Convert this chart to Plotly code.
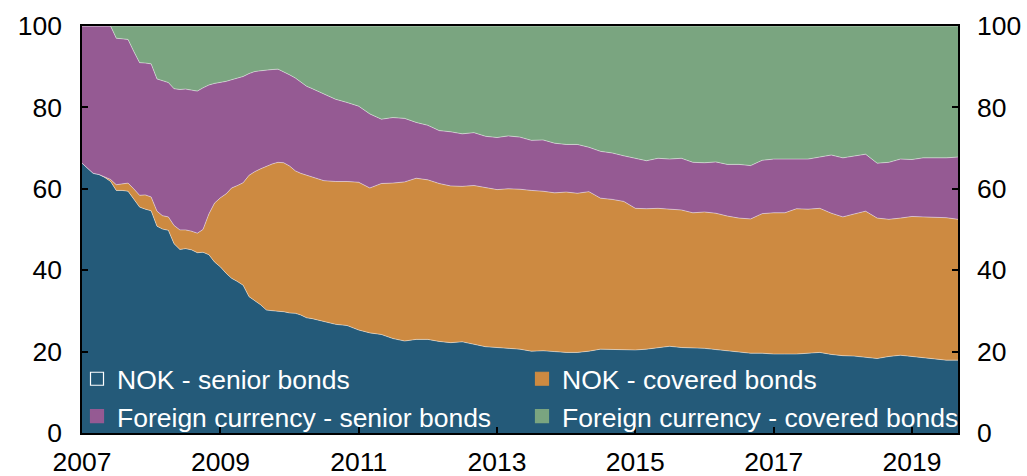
import plotly.graph_objects as go

# ---------------- data ----------------
dates = [
    "2007-01", "2007-02", "2007-03", "2007-04", "2007-05", "2007-06", "2007-07", "2007-08", "2007-09", "2007-10", "2007-11", "2007-12",
    "2008-01", "2008-02", "2008-03", "2008-04", "2008-05", "2008-06", "2008-07", "2008-08", "2008-09", "2008-10", "2008-11", "2008-12",
    "2009-01", "2009-02", "2009-03", "2009-04", "2009-05", "2009-06", "2009-07", "2009-08", "2009-09", "2009-10", "2009-11", "2009-12",
    "2010-01", "2010-02", "2010-03", "2010-04", "2010-05",
    "2010-07", "2010-09", "2010-11",
    "2011-01", "2011-03", "2011-05", "2011-07", "2011-09", "2011-11",
    "2012-01", "2012-03", "2012-05", "2012-07", "2012-09", "2012-11",
    "2013-01", "2013-03", "2013-05", "2013-07", "2013-09", "2013-11",
    "2014-01", "2014-03", "2014-05", "2014-07", "2014-09", "2014-11",
    "2015-01", "2015-03", "2015-05", "2015-07", "2015-09", "2015-11",
    "2016-01", "2016-03", "2016-05", "2016-07", "2016-09", "2016-11",
    "2017-01", "2017-03", "2017-05", "2017-07", "2017-09", "2017-11",
    "2018-01", "2018-03", "2018-05", "2018-07", "2018-09", "2018-11",
    "2019-01", "2019-03", "2019-05", "2019-07", "2019-09",
]

nok_senior = [
    66.3, 65.0, 63.8, 63.5, 62.8, 61.8, 59.6, 59.6, 59.4, 57.5, 55.5, 55.0,
    54.6, 50.8, 50.1, 49.8, 46.5, 45.1, 45.3, 45.0, 44.3, 44.4, 43.8, 42.0,
    40.8, 39.2, 38.0, 37.2, 36.3, 33.5, 32.5, 31.5, 30.2, 30.0, 29.9, 29.8,
    29.5, 29.4, 29.0, 28.3, 28.1,
    27.4, 26.7, 26.4,
    25.3, 24.6, 24.2, 23.2, 22.6, 23.0,
    23.0, 22.5, 22.2, 22.4, 21.7, 21.2,
    21.0, 20.8, 20.6, 20.1, 20.2, 20.0,
    19.8, 19.8, 20.1, 20.6, 20.5, 20.4,
    20.4, 20.6, 21.0, 21.3, 21.0, 20.9,
    20.8, 20.5, 20.2, 19.8, 19.6, 19.6,
    19.4, 19.4, 19.4, 19.6, 19.8, 19.3,
    19.0, 18.9, 18.6, 18.3, 18.8, 19.1,
    18.8, 18.5, 18.1, 17.9, 17.9,
]

nok_covered = [
    0.0, 0.0, 0.0, 0.0, 0.2, 0.5, 1.4, 1.6, 2.0, 2.5, 2.9, 3.5,
    3.4, 3.7, 3.3, 3.3, 4.5, 4.8, 4.6, 4.6, 4.8, 5.6, 10.0, 14.5,
    17.0, 19.6, 22.2, 23.6, 25.2, 29.8, 31.7, 33.4, 35.3, 36.1, 36.6, 36.6,
    36.1, 35.0, 34.8, 35.0, 34.8,
    34.6, 35.1, 35.4,
    36.3, 35.6, 37.1, 38.2, 39.1, 39.6,
    39.2, 38.8, 38.5, 38.2, 39.1, 39.1,
    38.8, 39.2, 39.3, 39.5, 39.2, 39.0,
    39.4, 39.1, 39.2, 37.1, 36.9, 36.5,
    34.8, 34.5, 34.2, 33.7, 33.8, 33.2,
    33.5, 33.5, 33.1, 33.0, 33.0, 34.3,
    34.7, 34.7, 35.7, 35.4, 35.4, 34.7,
    34.1, 34.9, 35.9, 34.5, 33.7, 33.7,
    34.4, 34.6, 34.9, 35.0, 34.6,
]

fx_senior = [
    33.7, 35.0, 36.2, 36.5, 37.0, 37.7, 36.0, 35.7, 35.3, 33.8, 32.6, 32.4,
    32.7, 32.5, 33.1, 33.0, 33.6, 34.5, 34.6, 34.7, 34.9, 34.8, 31.7, 29.4,
    28.3, 27.6, 26.6, 26.4, 26.1, 25.0, 24.6, 24.1, 23.7, 23.2, 22.9, 22.4,
    22.4, 22.8, 22.5, 21.9, 21.7,
    21.3, 20.2, 19.4,
    18.7, 18.2, 15.8, 16.1, 15.6, 13.7,
    13.4, 13.0, 13.3, 12.9, 13.0, 12.6,
    12.8, 13.0, 12.8, 12.3, 12.6, 12.2,
    11.7, 12.0, 10.9, 11.5, 11.4, 11.2,
    12.2, 11.8, 12.3, 12.3, 12.7, 12.4,
    12.1, 12.6, 12.7, 13.2, 13.1, 13.1,
    13.2, 13.2, 12.3, 12.3, 12.6, 14.3,
    14.5, 14.2, 14.0, 13.5, 14.0, 14.5,
    14.0, 14.5, 14.6, 14.7, 15.3,
]

fx_covered = [
    0.0, 0.0, 0.0, 0.0, 0.0, 0.0, 3.0, 3.1, 3.3, 6.2, 9.0, 9.1,
    9.3, 13.0, 13.5, 13.9, 15.4, 15.6, 15.5, 15.7, 16.0, 15.2, 14.5, 14.1,
    13.9, 13.6, 13.2, 12.8, 12.4, 11.7, 11.2, 11.0, 10.8, 10.7, 10.6, 11.2,
    12.0, 12.8, 13.7, 14.8, 15.4,
    16.7, 18.0, 18.8,
    19.7, 21.6, 22.9, 22.5, 22.7, 23.7,
    24.4, 25.7, 26.0, 26.5, 26.2, 27.1,
    27.4, 27.0, 27.3, 28.1, 28.0, 28.8,
    29.1, 29.1, 29.8, 30.8, 31.2, 31.9,
    32.6, 33.1, 32.5, 32.7, 32.5, 33.5,
    33.6, 33.4, 34.0, 34.0, 34.3, 33.0,
    32.7, 32.7, 32.6, 32.7, 32.2, 31.7,
    32.4, 32.0, 31.5, 33.7, 33.5, 32.7,
    32.8, 32.4, 32.4, 32.4, 32.2,
]

series_names = [
    "NOK - senior bonds",
    "NOK - covered bonds",
    "Foreign currency - senior bonds",
    "Foreign currency - covered bonds",
]
series_values = [nok_senior, nok_covered, fx_senior, fx_covered]

year_tick_vals = ["2007-01-01", "2009-01-01", "2011-01-01", "2013-01-01",
                  "2015-01-01", "2017-01-01", "2019-01-01"]
year_tick_text = ["2007", "2009", "2011", "2013", "2015", "2017", "2019"]
y_tick_vals = [0, 20, 40, 60, 80, 100]

# ---------------- styling ----------------
FONT = "Arial, 'Liberation Sans', sans-serif"
FS = 26.5
colors = ["#245A79", "#CD8A41", "#955A93", "#7AA580"]
edge = "rgba(255,255,255,0.55)"
# legend column for each series: left column holds the senior bonds
legend_ids = ["legend", "legend2", "legend", "legend2"]

W, H = 1027, 476
M_L, M_R, M_T, M_B = 82, 69, 26, 43
PLOT_W = W - M_L - M_R
PLOT_H = H - M_T - M_B

fig = go.Figure()

for name, vals, col in zip(series_names, series_values, colors):
    fig.add_trace(go.Scatter(
        x=dates, y=vals, name=name, stackgroup="one", mode="lines",
        line=dict(color=edge, width=0.8), fillcolor=col,
        showlegend=False, hoverinfo="skip",
    ))

# legend entries (square markers)
for i, (name, col, lg) in enumerate(zip(series_names, colors, legend_ids)):
    marker = dict(symbol="square", size=13, color=col,
                  line=dict(color=("white" if i == 0 else col), width=1.2))
    fig.add_trace(go.Scatter(x=[None], y=[None], mode="markers", name=name,
                             marker=marker, showlegend=True, legend=lg))

# dummy trace for the right axis
fig.add_trace(go.Scatter(x=[None], y=[None], yaxis="y2", showlegend=False,
                         hoverinfo="skip", mode="lines"))

axis_font = dict(family=FONT, size=FS, color="black")
legend_common = dict(
    orientation="v", yanchor="bottom", xanchor="left",
    bgcolor="rgba(0,0,0,0)", borderwidth=0,
    font=dict(family=FONT, size=FS, color="white"),
    traceorder="normal", itemwidth=30, tracegroupgap=0,
)

fig.update_layout(
    width=W, height=H,
    margin=dict(l=M_L, r=M_R, t=M_T, b=M_B, autoexpand=False),
    paper_bgcolor="white", plot_bgcolor="white",
    font=dict(family=FONT, size=FS, color="black"),
    xaxis=dict(
        type="date", range=["2007-01-01", "2019-09-01"],
        tickvals=year_tick_vals, ticktext=year_tick_text,
        ticks="inside", ticklen=6, tickwidth=1.5, tickcolor="black",
        showgrid=False, zeroline=False, automargin=False,
        showline=True, linecolor="black", linewidth=1.5, mirror=True,
        tickfont=axis_font, ticklabelstandoff=4,
    ),
    yaxis=dict(
        range=[0, 100], tickvals=y_tick_vals,
        ticks="inside", ticklen=6, tickwidth=1.5, tickcolor="black",
        showgrid=False, zeroline=False, automargin=False,
        showline=True, linecolor="black", linewidth=1.5, mirror=True,
        tickfont=axis_font, ticklabelstandoff=13,
    ),
    yaxis2=dict(
        range=[0, 100], tickvals=y_tick_vals, overlaying="y", side="right",
        ticks="inside", ticklen=6, tickwidth=1.5, tickcolor="black",
        showgrid=False, zeroline=False, showline=False, automargin=False,
        tickfont=axis_font, ticklabelstandoff=18,
    ),
    legend=dict(legend_common, x=-5 / PLOT_W, y=-7 / PLOT_H),
    legend2=dict(legend_common, x=440 / PLOT_W, y=-7 / PLOT_H),
    showlegend=True,
)

# remove the browser's default 8px body margin so the figure fills the window
fig.write_html(
    "out.html",
    config={"displayModeBar": False},
    post_script="document.body.style.margin='0';document.body.style.overflow='hidden';",
)
